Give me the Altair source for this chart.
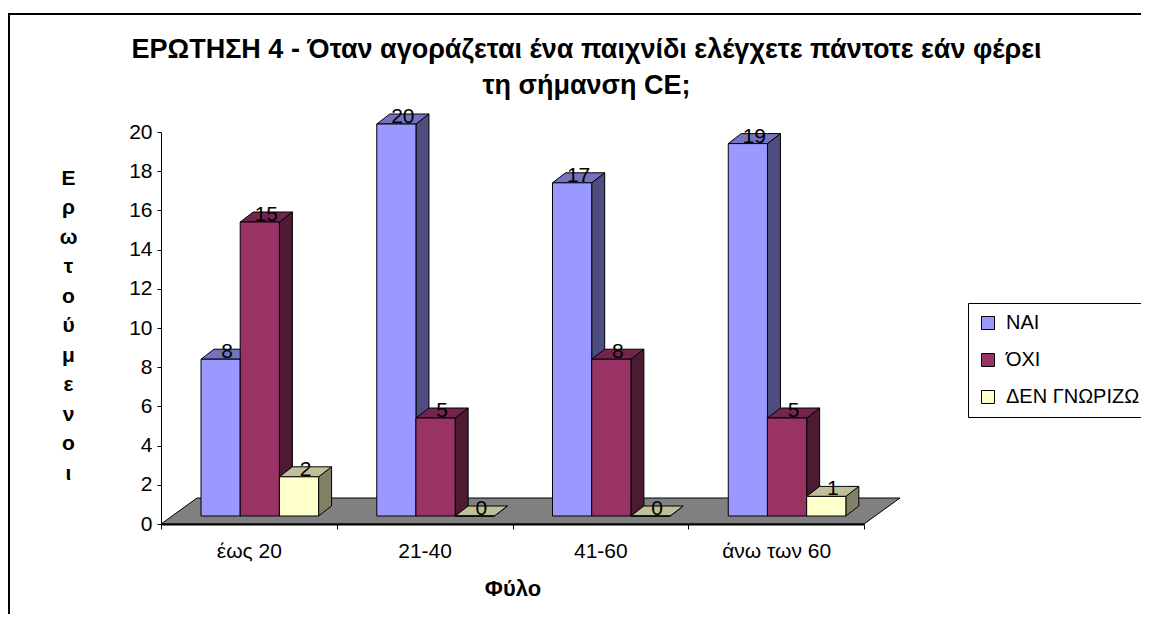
import altair as alt
import pandas as pd

# ---- data ----
categories = ["έως 20", "21-40", "41-60", "άνω των 60"]
series = ["ΝΑΙ", "ΌΧΙ", "ΔΕΝ ΓΝΩΡΙΖΩ"]
nai = [8, 20, 17, 19]
oxi = [15, 5, 8, 5]
den = [2, 0, 0, 1]
y_ticks = [0, 2, 4, 6, 8, 10, 12, 14, 16, 18, 20]

title_lines = ["ΕΡΩΤΗΣΗ 4 - Όταν αγοράζεται ένα παιχνίδι ελέγχετε πάντοτε εάν φέρει",
               "τη σήμανση CE;"]
y_title = "Ερωτούμενοι"
x_title = "Φύλο"

# ---- styles ----
front_colors = ["#9999FF", "#993366", "#FFFFCC"]
top_colors = ["#7373BF", "#73264D", "#BFBF99"]
side_colors = ["#4D4D80", "#4D1A33", "#808066"]
floor_color = "#808080"
FONT = "Liberation Sans"

W, H = 703, 392
YMAX = 20
N = len(categories)
# 3-D look, in pixels
GROUP_LEFT = 40
BAR_W = 39.2
BASE_UP = 8
DEPTH_X = 13
DEPTH_Y = 10
FLOOR_X = 36
FLOOR_Y = 26

ux = N / W      # data units per pixel (x)
uy = YMAX / H   # data units per pixel (y)

values = [nai, oxi, den]
front_rows, side_rows, top_rows, label_rows = [], [], [], []
dx, dy = DEPTH_X * ux, DEPTH_Y * uy
for i, cat in enumerate(categories):
    for j, s in enumerate(series):
        v = values[j][i]
        xl = i + GROUP_LEFT * ux + j * BAR_W * ux
        xr = xl + BAR_W * ux
        yb = BASE_UP * uy
        yt = yb + v
        fid = f"{i}-{j}"
        front_rows.append(dict(category=cat, series=s, value=v, x=xl, x2=xr, y=yb, y2=yt))
        for px, t, b in [(xr, yt, yb), (xr + dx, yt + dy, yb + dy)]:
            side_rows.append(dict(face=fid, fill=side_colors[j], x=px, top=t, bot=b))
        for px, t, b in [(xl, yt, yt), (xl + dx, yt + dy, yt), (xr, yt + dy, yt), (xr + dx, yt + dy, yt + dy)]:
            top_rows.append(dict(face=fid, fill=top_colors[j], x=px, top=t, bot=b))
        label_rows.append(dict(x=xl + BAR_W * ux / 2 + dx / 2, y=yt, value=v))

fx, fy = FLOOR_X * ux, FLOOR_Y * uy
floor_rows = [dict(x=0, top=0, bot=0), dict(x=fx, top=fy, bot=0),
              dict(x=N, top=fy, bot=0), dict(x=N + fx, top=fy, bot=fy)]

front_df = pd.DataFrame(front_rows)
side_df = pd.DataFrame(side_rows)
top_df = pd.DataFrame(top_rows)
label_df = pd.DataFrame(label_rows)
floor_df = pd.DataFrame(floor_rows)
cat_df = pd.DataFrame({"category": categories})
one_df = pd.DataFrame({"a": [0]})

xq = alt.Scale(domain=[0, N], nice=False, zero=False)
ys = alt.Scale(domain=[0, YMAX], nice=False, zero=True)

yaxis = alt.Axis(values=y_ticks, grid=False, domainColor="black", tickColor="black",
                 tickSize=4, labelFont=FONT, labelFontSize=21, labelColor="black",
                 labelPadding=5, title=list(y_title), titleFont=FONT, titleFontSize=21,
                 titleFontWeight="bold", titleColor="black", titleAngle=0,
                 titleX=-93, titleY=46, titleAlign="center", titleBaseline="middle",
                 titleLineHeight=29.5)


def Y(field):
    return alt.Y(field, type="quantitative", scale=ys, axis=yaxis, stack=None)


axis_layer = alt.Chart(cat_df).mark_point(opacity=0).encode(
    x=alt.X("category:N", sort=categories,
            scale=alt.Scale(type="band", paddingInner=0, paddingOuter=0),
            axis=alt.Axis(title=x_title, labelAngle=0, tickBand="extent", grid=False,
                          domainColor="black", domainWidth=2, tickColor="black",
                          tickSize=5, labelFont=FONT, labelFontSize=21, labelColor="black",
                          labelPadding=11, titleFont=FONT, titleFontSize=22,
                          titleFontWeight="bold", titleColor="black",
                          titleY=71, titleBaseline="alphabetic", zindex=1)),
    y=alt.value(0),
)

frame_left = alt.Chart(one_df).mark_rule(color="black", strokeWidth=2).encode(
    x=alt.value(-152), y=alt.value(-119), y2=alt.value(H + 200))
frame_top = alt.Chart(one_df).mark_rule(color="black", strokeWidth=2).encode(
    x=alt.value(-152), x2=alt.value(W + 400), y=alt.value(-118))

floor = alt.Chart(floor_df).mark_area(orient="vertical", color=floor_color,
                                      stroke="black", strokeWidth=1).encode(
    x=alt.X("x:Q", scale=xq, axis=None),
    y=Y("top"),
    y2="bot:Q",
)

sides = alt.Chart(side_df).mark_area(orient="vertical", stroke="black", strokeWidth=1).encode(
    x=alt.X("x:Q", scale=xq, axis=None),
    y=Y("top"),
    y2="bot:Q",
    fill=alt.Fill("fill:N", scale=None),
    detail="face:N",
)

tops = alt.Chart(top_df).mark_area(orient="vertical", stroke="black", strokeWidth=1).encode(
    x=alt.X("x:Q", scale=xq, axis=None),
    y=Y("top"),
    y2="bot:Q",
    fill=alt.Fill("fill:N", scale=None),
    detail="face:N",
)

fronts = alt.Chart(front_df).mark_bar(stroke="black", strokeWidth=1, opacity=1).encode(
    x=alt.X("x:Q", scale=xq, axis=None),
    x2="x2:Q",
    y=Y("y"),
    y2="y2:Q",
    color=alt.Color("series:N", scale=alt.Scale(domain=series, range=front_colors),
                    legend=alt.Legend(title=None, orient="none", legendX=807, legendY=171,
                                      padding=10, strokeColor="black", fillColor="white",
                                      symbolType="square", symbolSize=169,
                                      symbolStrokeColor="black", symbolStrokeWidth=1,
                                      symbolOpacity=1, labelFont=FONT, labelFontSize=20,
                                      labelColor="black", rowPadding=17, labelOffset=8,
                                      labelLimit=400, cornerRadius=0)),
)

labels = alt.Chart(label_df).mark_text(font=FONT, fontSize=21, color="black",
                                       baseline="alphabetic", align="center", dy=-1).encode(
    x=alt.X("x:Q", scale=xq, axis=None),
    y=Y("y"),
    text="value:Q",
)

chart = alt.layer(axis_layer, frame_left, frame_top, floor, sides, tops, fronts, labels).resolve_scale(
    x="independent"
).properties(
    width=W, height=H,
    autosize=alt.AutoSizeParams(type="none"),
    padding={"left": 153, "top": 124, "right": 277, "bottom": 90},
    title=alt.TitleParams(text=title_lines, font=FONT, fontSize=27, fontWeight="bold",
                          color="black", anchor="middle", frame="group", dx=74,
                          dy=92, lineHeight=36),
    background="white",
).configure_view(stroke=None)

chart.save("out.html", embed_options={"renderer": "svg", "actions": False})
